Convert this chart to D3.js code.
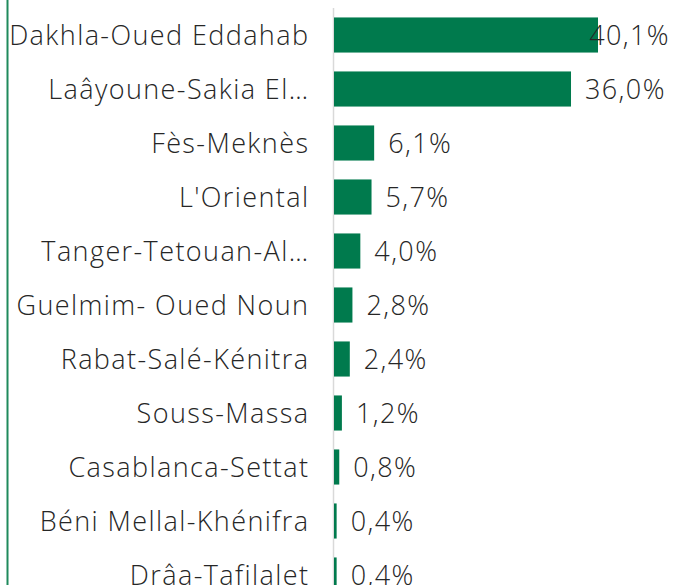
<!DOCTYPE html>
<html><head><meta charset="utf-8">
<script src="https://cdn.jsdelivr.net/npm/d3@7"></script>
<style>body{margin:0;background:#fff;overflow:hidden}</style>
</head><body>
<svg id="c" width="673" height="585"></svg>
<script>
const categories = ["Dakhla-Oued Eddahab","Laâyoune-Sakia El…","Fès-Meknès","L'Oriental","Tanger-Tetouan-Al…","Guelmim- Oued Noun","Rabat-Salé-Kénitra","Souss-Massa","Casablanca-Settat","Béni Mellal-Khénifra","Drâa-Tafilalet"];
const values = [40.1,36.0,6.1,5.7,4.0,2.8,2.4,1.2,0.8,0.4,0.4];
const valueLabels = ["40,1%","36,0%","6,1%","5,7%","4,0%","2,8%","2,4%","1,2%","0,8%","0,4%","0,4%"];

const svg = d3.select("#c");
const font = "'Open Sans', sans-serif";
const fs = 27, ls = 1.4;
const x = d3.scaleLinear().domain([0, 40.1]).range([334, 598]);
const y = d3.scaleBand().domain(categories).range([8, 602]).paddingInner(0.35).paddingOuter(0.175);

svg.append("line").attr("x1",7.5).attr("x2",7.5).attr("y1",0).attr("y2",585).attr("stroke","#1f8a5c").attr("stroke-width",2);
svg.append("line").attr("x1",333.5).attr("x2",333.5).attr("y1",8).attr("y2",585).attr("stroke","#d9d9d9").attr("stroke-width",1.5);

svg.selectAll("rect.bar").data(values).join("rect").attr("class","bar")
  .attr("x", x(0)).attr("y",(d,i)=>y(categories[i])).attr("width",d=>x(d)-x(0)).attr("height",y.bandwidth())
  .attr("fill","#007a4d");

svg.selectAll("text.cat").data(categories).join("text").attr("class","cat")
  .attr("x",308+ls).attr("y",d=>y(d)+y.bandwidth()/2).attr("dy","0.36em").attr("text-anchor","end")
  .attr("font-family",font).attr("font-weight",300).attr("font-size",fs).attr("letter-spacing",ls).attr("fill","#262626").text(d=>d);

svg.selectAll("text.val").data(values).join("text").attr("class","val")
  .attr("y",(d,i)=>y(categories[i])+y.bandwidth()/2).attr("dy","0.36em")
  .attr("font-family",font).attr("font-weight",300).attr("font-size",fs).attr("letter-spacing",ls).attr("fill","#262626")
  .text((d,i)=>valueLabels[i])
  .each(function(d){
    const w = this.getComputedTextLength();
    this.setAttribute("x", Math.min(x(d)+14, 670 - w));
  });
</script>
</body></html>
